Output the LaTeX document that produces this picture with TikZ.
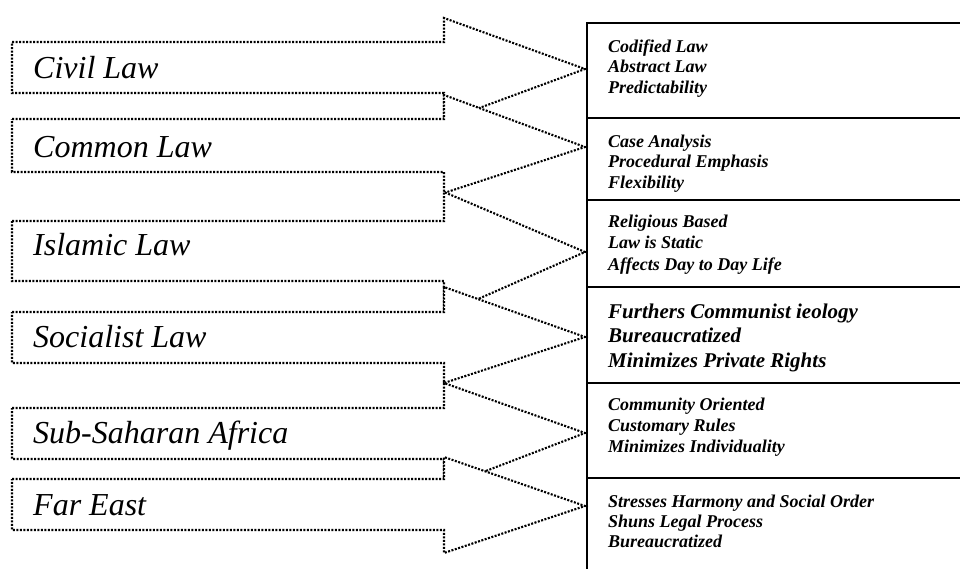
\documentclass[tikz,border=0pt]{standalone}
\usepackage{fontspec}
\setmainfont{Liberation Serif}
\newcommand\traitlines[1]{\begin{tabular}[t]{@{}l@{}}#1\end{tabular}}
\begin{document}
\begin{tikzpicture}[x=1pt,y=-1pt,
  lawarrow/.style={draw=black, fill=white, line width=2.1pt, dash pattern=on 2pt off 1.5pt, line join=miter},
  lawlabel/.style={anchor=base west, inner sep=0pt, font=\fontsize{32}{38}\selectfont\itshape},
  traitbox/.style={draw=black, line width=2.2pt, fill=white, rectangle, anchor=north west, minimum width=400pt, inner sep=0pt, outer sep=0pt},
  traits/.style={anchor=base west, inner sep=0pt, font=\fontsize{18}{20.5}\selectfont\bfseries\itshape},
]
\useasboundingbox (0,0) rectangle (960,568);
\clip (0,0) rectangle (960,568);
\fill[white] (0,0) rectangle (960,568);

% column of characteristic boxes
\node[traitbox, minimum height=95pt] (b1) at (587,23) {};
\node[traitbox, minimum height=82pt] (b2) at (587,118) {};
\node[traitbox, minimum height=87pt] (b3) at (587,200) {};
\node[traitbox, minimum height=96pt] (b4) at (587,287) {};
\node[traitbox, minimum height=95pt] (b5) at (587,383) {};
\node[traitbox, minimum height=120pt] (b6) at (587,478) {};

% block arrows, each one covering part of the one above
\draw[lawarrow] (12,42) -- (444,42) -- (444,18) -- (585,69) -- (444,121) -- (444,93) -- (12,93) -- cycle;
\draw[lawarrow] (12,119) -- (444,119) -- (444,95) -- (585,147) -- (444,193) -- (444,172) -- (12,172) -- cycle;
\draw[lawarrow] (12,221) -- (444,221) -- (444,192) -- (585,252) -- (444,314) -- (444,281) -- (12,281) -- cycle;
\draw[lawarrow] (12,312) -- (444,312) -- (444,287) -- (585,337) -- (444,383) -- (444,363) -- (12,363) -- cycle;
\draw[lawarrow] (12,408) -- (444,408) -- (444,383) -- (585,433) -- (444,487) -- (444,459) -- (12,459) -- cycle;
\draw[lawarrow] (12,479) -- (444,479) -- (444,457) -- (585,506) -- (444,553) -- (444,530) -- (12,530) -- cycle;

% legal traditions
\node[lawlabel] (civil) at (33,78) {Civil Law};
\node[lawlabel] (common) at (33,157) {Common Law};
\node[lawlabel] (islamic) at (33,255) {Islamic Law};
\node[lawlabel] (socialist) at (33,347) {Socialist Law};
\node[lawlabel] (subsahara) at (33,443) {Sub-Saharan Africa};
\node[lawlabel] (fareast) at (33,515) {Far East};

% characteristics
\node[traits] (t1) at (608,52) {\traitlines{Codified Law\\Abstract Law\\Predictability}};
\node[traits] (t2) at (608,147) {\traitlines{Case Analysis\\Procedural Emphasis\\Flexibility}};
\node[traits, font=\fontsize{18}{21.5}\selectfont\bfseries\itshape] (t3) at (608,227) {\traitlines{Religious Based\\Law is Static\\Affects Day to Day Life}};
\node[traits, font=\fontsize{21}{24.5}\selectfont\bfseries\itshape] (t4) at (608,318) {\traitlines{Furthers Communist ieology\\Bureaucratized\\Minimizes Private Rights}};
\node[traits, font=\fontsize{18}{21}\selectfont\bfseries\itshape] (t5) at (608,410) {\traitlines{Community Oriented\\Customary Rules\\Minimizes Individuality}};
\node[traits, font=\fontsize{18}{20}\selectfont\bfseries\itshape] (t6) at (608,507) {\traitlines{Stresses Harmony and Social Order\\Shuns Legal Process\\Bureaucratized}};
\end{tikzpicture}
\end{document}
